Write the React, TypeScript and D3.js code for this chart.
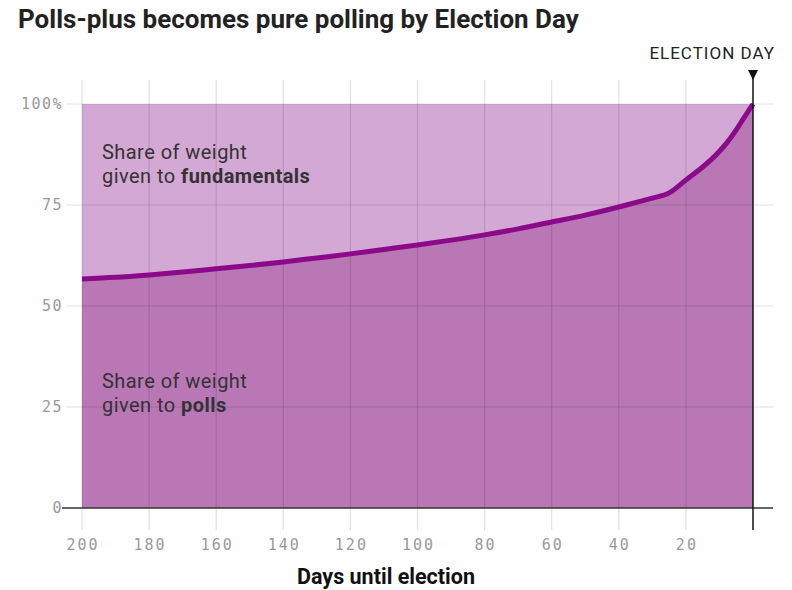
import { useEffect, useRef } from 'react'
import * as d3 from 'd3'

const DAYS = [200, 190, 180, 170, 160, 150, 140, 130, 120, 110, 100, 90, 80, 70, 60, 50, 40, 35, 30, 25, 20, 15, 12, 10, 8, 5, 3, 0]
const POLLS_SHARE = [56.7, 57.1, 57.7, 58.4, 59.2, 60.0, 60.9, 61.9, 62.9, 64.0, 65.1, 66.3, 67.6, 69.1, 70.8, 72.5, 74.5, 75.6, 76.7, 78.0, 81.2, 84.4, 86.6, 88.3, 90.2, 93.6, 96.2, 100]
const X_TICKS = [200, 180, 160, 140, 120, 100, 80, 60, 40, 20]
const Y_TICKS = [0, 25, 50, 75, 100]

export default function App() {
  const svgRef = useRef<SVGSVGElement>(null)

  useEffect(() => {
    document.body.style.margin = '0'
    if (!svgRef.current) return
    const W = 792, H = 590
    const svg = d3.select(svgRef.current).attr('viewBox', `0 0 ${W} ${H}`)
    svg.selectAll('*').remove()

    const x = d3.scaleLinear().domain([200, 0]).range([82, 753])
    const y = d3.scaleLinear().domain([0, 100]).range([508, 104])
    const data = DAYS.map((d, i) => [d, POLLS_SHARE[i]] as [number, number])
    const mono = '"DejaVu Sans Mono", monospace'
    const sans = 'Roboto, "Liberation Sans", sans-serif'

    // title
    svg.append('text').attr('x', 18).attr('y', 28)
      .attr('font-family', sans).attr('font-weight', 700).attr('font-size', 26)
      .attr('fill', '#222').text('Polls-plus becomes pure polling by Election Day')

    // fundamentals area (top)
    svg.append('rect').attr('x', x(200)).attr('y', y(100))
      .attr('width', x(0) - x(200)).attr('height', y(0) - y(100)).attr('fill', '#d4a8d4')

    // polls area
    const area = d3.area<[number, number]>().x((d) => x(d[0])).y0(y(0)).y1((d) => y(d[1])).curve(d3.curveMonotoneX)
    svg.append('path').datum(data).attr('fill', '#b977b6').attr('d', area)

    // grid
    Y_TICKS.filter((t) => t > 0).forEach((t) => {
      svg.append('line').attr('x1', 67).attr('x2', 773).attr('y1', y(t)).attr('y2', y(t))
        .attr('stroke', 'rgba(0,0,0,0.12)').attr('stroke-width', 1.2)
    })
    X_TICKS.forEach((t) => {
      svg.append('line').attr('x1', x(t)).attr('x2', x(t)).attr('y1', 80).attr('y2', 530)
        .attr('stroke', 'rgba(0,0,0,0.12)').attr('stroke-width', 1.2)
    })

    // y tick labels
    Y_TICKS.forEach((t) => {
      svg.append('text').attr('x', 63).attr('y', y(t) + 5).attr('text-anchor', 'end')
        .attr('font-family', mono).attr('font-size', 15).attr('letter-spacing', 1.5).attr('fill', '#999')
        .text(t === 100 ? '100%' : `${t}`)
    })
    // x tick labels
    X_TICKS.forEach((t) => {
      svg.append('text').attr('x', x(t) + 1).attr('y', 550).attr('text-anchor', 'middle')
        .attr('font-family', mono).attr('font-size', 15).attr('letter-spacing', 2).attr('fill', '#999')
        .text(`${t}`)
    })

    // baseline
    svg.append('line').attr('x1', 62).attr('x2', 773).attr('y1', y(0)).attr('y2', y(0))
      .attr('stroke', '#333').attr('stroke-width', 1.5)

    // the line
    const line = d3.line<[number, number]>().x((d) => x(d[0])).y((d) => y(d[1])).curve(d3.curveMonotoneX)
    svg.append('path').datum(data).attr('fill', 'none').attr('stroke', '#8a0a8a')
      .attr('stroke-width', 5).attr('stroke-linejoin', 'round').attr('d', line)

    // election day marker
    svg.append('line').attr('x1', x(0)).attr('x2', x(0)).attr('y1', 72).attr('y2', 530)
      .attr('stroke', '#111').attr('stroke-width', 1.5)
    svg.append('path').attr('d', `M${x(0) - 5},70 L${x(0) + 5},70 L${x(0)},80 Z`).attr('fill', '#111')
    svg.append('text').attr('x', 775).attr('y', 59).attr('text-anchor', 'end')
      .attr('font-family', sans).attr('font-size', 17).attr('letter-spacing', 1).attr('fill', '#222').text('ELECTION DAY')

    // annotations
    const note = (ty: number, bold: string) => {
      const t = svg.append('text').attr('font-family', sans).attr('font-size', 20).attr('letter-spacing', 0.45).attr('fill', '#333')
      t.append('tspan').attr('x', 102).attr('y', ty).text('Share of weight')
      const t2 = t.append('tspan').attr('x', 102).attr('y', ty + 24)
      t2.append('tspan').text('given to ')
      t2.append('tspan').attr('font-weight', 700).text(bold)
    }
    note(159, 'fundamentals')
    note(388, 'polls')

    // x axis title
    svg.append('text').attr('x', 386).attr('y', 584).attr('text-anchor', 'middle')
      .attr('font-family', sans).attr('font-weight', 700).attr('font-size', 21.5)
      .attr('fill', '#111').text('Days until election')
  }, [])

  return <svg ref={svgRef} width={792} height={590} style={{ display: 'block' }} />
}
